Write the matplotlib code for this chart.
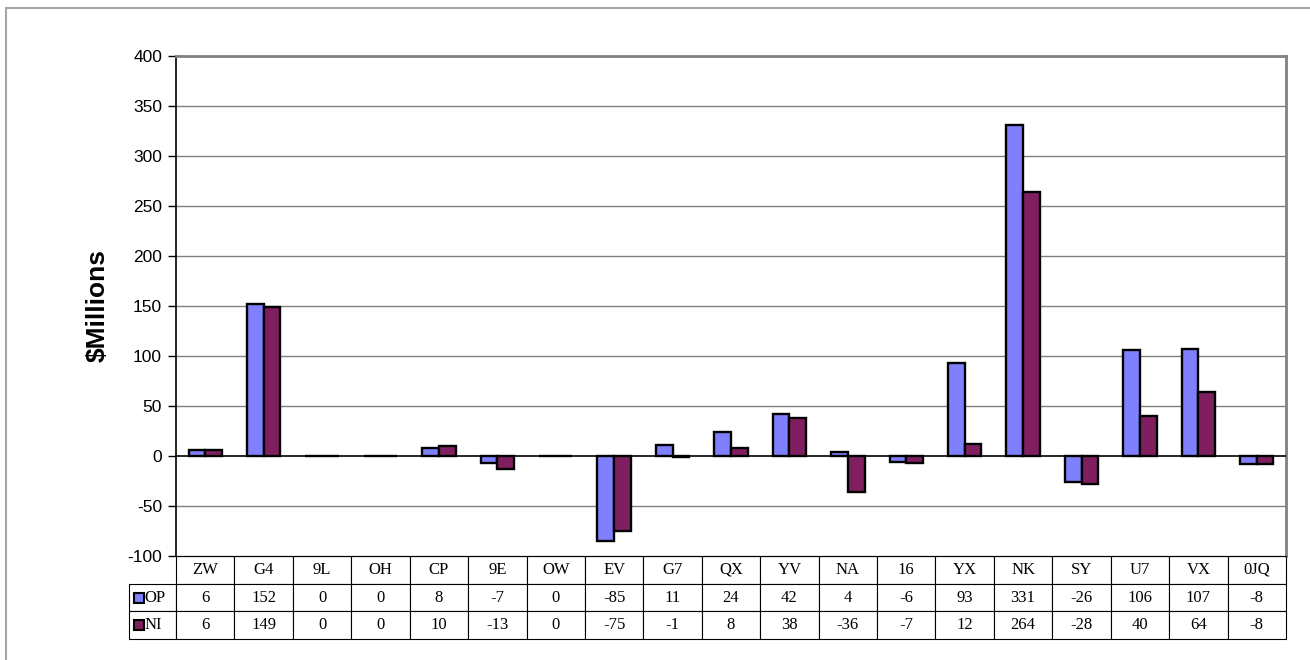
import numpy as np
import matplotlib
matplotlib.use("Agg")
import matplotlib.pyplot as plt
from matplotlib.table import Table
from matplotlib.patches import Rectangle

plt.rcParams["axes.unicode_minus"] = False

# data
cats = ["ZW", "G4", "9L", "OH", "CP", "9E", "OW", "EV", "G7", "QX",
        "YV", "NA", "16", "YX", "NK", "SY", "U7", "VX", "0JQ"]
op = [6, 152, 0, 0, 8, -7, 0, -85, 11, 24, 42, 4, -6, 93, 331, -26, 106, 107, -8]
ni = [6, 149, 0, 0, 10, -13, 0, -75, -1, 8, 38, -36, -7, 12, 264, -28, 40, 64, -8]
series = ["OP", "NI"]
colors = ["#8080FF", "#7F1F5F"]
yticks = np.arange(-100, 401, 50)

fig = plt.figure(figsize=(13.1, 6.6), dpi=100)
fig.patch.set_facecolor("white")

# outer chart frame (only top/left visible in the picture)
fig.patches.append(Rectangle((6/1310, -0.05), 1.2, 0.9879 + 0.05, transform=fig.transFigure,
                             fill=False, edgecolor="#A6A6A6", linewidth=1.5))

ax = fig.add_axes([176/1310, 1 - 556/660, 1110/1310, 500/660])

x = np.arange(len(cats))
bw = 0.286
ax.bar(x - bw/2, op, bw, color=colors[0], edgecolor="black", linewidth=1.7, zorder=3)
ax.bar(x + bw/2, ni, bw, color=colors[1], edgecolor="black", linewidth=1.7, zorder=3)

ax.set_xlim(-0.5, len(cats) - 0.5)
ax.set_ylim(-100, 400)
ax.set_yticks(yticks)
ax.set_xticks([])
for yv in yticks[1:-1]:
    if yv != 0:
        ax.axhline(yv, color="#808080", linewidth=1.0, zorder=1)
ax.axhline(0, color="black", linewidth=1.2, zorder=4)

ax.tick_params(axis="y", direction="out", length=6, width=1, labelsize=12.5, pad=4)
for lab in ax.get_yticklabels():
    lab.set_fontfamily("Liberation Sans")
ax.spines["top"].set_color("#808080")
ax.spines["right"].set_color("#808080")
ax.spines["top"].set_linewidth(2)
ax.spines["right"].set_linewidth(2)
ax.spines["left"].set_color("black")
ax.spines["left"].set_linewidth(1.2)
ax.spines["bottom"].set_color("black")

ax.set_ylabel("$Millions", fontsize=19, fontweight="bold", family="Liberation Sans", labelpad=13)

# data table under the axis
lw_frac = 47/1110
th = 83/500
cw = 1/len(cats)
rh = 1/3
tb = Table(ax, bbox=[0, -th, 1, th])
for j, c in enumerate(cats):
    tb.add_cell(0, j, width=cw, height=rh, text=c, loc="center")
for i, vals in enumerate([op, ni]):
    cell = tb.add_cell(i + 1, -1, width=lw_frac, height=rh, text=series[i], loc="left")
    cell.PAD = 0.32
    for j, v in enumerate(vals):
        tb.add_cell(i + 1, j, width=cw, height=rh, text=str(v), loc="center")
tb.auto_set_font_size(False)
tb.set_fontsize(12)
for key, cell in tb.get_celld().items():
    cell.set_edgecolor("black")
    cell.set_linewidth(0.8)
    cell.get_text().set_fontfamily("Liberation Serif")
ax.add_table(tb)

# legend keys in the row labels
for i in range(2):
    yk = -th * (1.5 + i) / 3
    ax.plot([-lw_frac + 10/1110], [yk], marker="s", markersize=7, markerfacecolor=colors[i],
            markeredgecolor="black", markeredgewidth=1.5, transform=ax.transAxes, clip_on=False)

fig.savefig("out.png", dpi=100)
